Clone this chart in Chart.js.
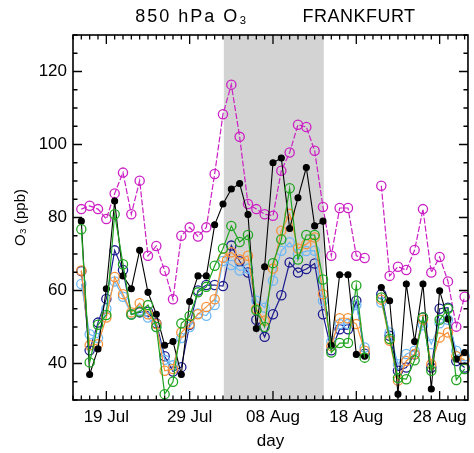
<!DOCTYPE html>
<html lang="en">
<head>
  <meta charset="UTF-8" />
  <title>850 hPa O3 FRANKFURT</title>
  <script src="https://cdn.jsdelivr.net/npm/chart.js@4.4.0/dist/chart.umd.min.js"></script>
  <style>
    html, body { margin: 0; padding: 0; background: #fff; }
    .chart-wrapper { width: 474px; height: 453px; position: relative; }
  </style>
</head>
<body>
  <div class="chart-wrapper"><canvas id="o3"></canvas></div>
  <script>
    // day index: 0 = 16 Jul ... 46 = 31 Aug
    const days = [0, 1, 2, 3, 4, 5, 6, 7, 8, 9, 10, 11, 12, 13, 14, 15, 16, 17, 18, 19, 20, 21, 22, 23,
      24, 25, 26, 27, 28, 29, 30, 31, 32, 33, 34, 35, 36, 37, 38, 39, 40, 41, 42, 43, 44, 45, 46];
    const tickDays = [3, 13, 23, 33, 43];
    const tickLabels = ['19 Jul', '29 Jul', '08 Aug', '18 Aug', '28 Aug'];
    const yTicks = [40, 60, 80, 100, 120];
    const band = [17.1, 29.1];

    const black = [79, 37, 44, 60.5, 84.5, 64, 60.5, 71, 59.5, 53.5, 45, 46, 37, 57, 64, 64, 78, 83.7, 87.8, 89.3,
      80.8, 49.6, 66.5, 95, 96.3, 77, 85.4, 93.7, 77.7, 79, 45, 64.3, 64.3, 42.5, 42, null,
      60.8, 57.2, 31.6, 61.8, 46, 61.8, 33, 59.9, 52.2, 41.2, 43];
    const magenta = [82.3, 83.2, 82.3, 79.6, 86.6, 92.3, 80.9, 90.1, 69.5, 72.2, 65.4, 57.6, 75, 77.3, 74.8, 77.3,
      91.9, 108.3, 116.4, 102.1, 83.7, 82.3, 80.9, 80.5, 92.8, 97.8, 105.4, 104.8, 98.3, 82.9, 69.5, 82.6, 82.6,
      69.5, 68.9, null, 88.7, 64, 66.5, 65.6, 71.1, 82.3, 64.9, 69.2, 62.5, 50.1, 58.3];
    const navy = [65.3, 43.6, 51.2, 57.7, 71, 65.6, 53.5, 54, 54.2, 51, 42, 37.8, 39, 50.6, 60, 61.5, 61.5, 61.2,
      72.3, 68, 64.9, 52, 47.3, 53.5, 58.7, 67.7, 64.9, 65.9, 67.4, 53.5, 43.6, 49.4, 49.4, 57.2, 42.7, null,
      59, 47.6, 38, 38.9, 42.5, 52.6, 38.9, 55, 55.3, 40.7, 38.9];
    const lightblue = [61.8, 48, 47, 55, 62.5, 58.3, 53.5, 54.5, 52.6, 50, 41, 39.5, 47, 50, 53.7, 53.1, 56, 68.1,
      67, 65.5, 66, 57.2, 55.3, 62.7, 70.9, 73.2, 70, 70.8, 70.9, 57.2, 46, 50.8, 50.8, 56, 44.4, null,
      56.7, 48.5, 39.8, 42.6, 43.5, 50.5, 45.3, 51, 52, 43.5, 42];
    const orange = [65.5, 45, 45.3, 52.6, 63.7, 59, 54, 56.5, 53.5, 50.8, 38, 38.5, 48.5, 50.8, 53.5, 55.5, 57.6,
      69, 70.5, 68.5, 69.5, 55, 51.7, 66, 76.4, 81, 71.5, 72.7, 74.5, 59, 44.8, 52.4, 52.4, 50.8, 43.5, null,
      57.5, 46.2, 35.3, 40.7, 42.6, 52, 39.8, 47.1, 48.5, 42, 41];
    const green = [76.8, 40.3, 50.6, 53.3, 80.9, 67.2, 53.4, 54.2, 56, 50, 31.6, 35, 51, 53, 59.5, 61, 66.8, 71.5,
      77.7, 73.3, 75.2, 54.6, 50, 67.5, 74, 88, 68.5, 75.2, 75.2, 63, 43, 45.6, 45.6, 61.4, 41.6, null,
      58.1, 46.7, 36, 35.7, 40.9, 52.6, 38, 52, 55, 35.5, 38.5];

    const pts = vals => days.map((d, i) => ({ x: d, y: vals[i] }));

    function circles(label, vals, color, dash) {
      return {
        label: label,
        data: pts(vals),
        borderColor: color,
        borderWidth: 1.2,
        borderDash: dash || [],
        pointStyle: 'circle',
        pointRadius: 4.6,
        pointBorderWidth: 1.3,
        pointBorderColor: color,
        pointBackgroundColor: 'rgba(0,0,0,0)',
        spanGaps: false,
        tension: 0,
        clip: false
      };
    }

    const frame = {
      id: 'frame',
      beforeDatasetsDraw(chart) {
        const { ctx, chartArea: a, scales: { x } } = chart;
        const x0 = x.getPixelForValue(band[0]);
        const x1 = x.getPixelForValue(band[1]);
        ctx.save();
        ctx.fillStyle = '#d3d3d3';
        ctx.fillRect(x0, a.top, x1 - x0, a.bottom - a.top);
        ctx.restore();
      },
      afterDraw(chart) {
        const { ctx, chartArea: a, scales: { x, y } } = chart;
        ctx.save();
        ctx.strokeStyle = '#000';
        ctx.lineWidth = 1.6;
        ctx.strokeRect(a.left, a.top, a.right - a.left, a.bottom - a.top);
        ctx.lineWidth = 1.3;
        ctx.beginPath();
        for (let d = -1; d <= 46; d++) {
          const px = x.getPixelForValue(d);
          const len = tickDays.includes(d) ? 9 : 4.5;
          ctx.moveTo(px, a.bottom); ctx.lineTo(px, a.bottom - len);
          ctx.moveTo(px, a.top); ctx.lineTo(px, a.top + len);
        }
        for (let v = 30; v <= 130; v += 5) {
          const py = y.getPixelForValue(v);
          const len = yTicks.includes(v) ? 9 : 4.5;
          ctx.moveTo(a.left, py); ctx.lineTo(a.left + len, py);
          ctx.moveTo(a.right, py); ctx.lineTo(a.right - len, py);
        }
        ctx.stroke();
        // title, two parts like the original
        ctx.fillStyle = '#000';
        ctx.font = '18px "Liberation Sans", Arial, sans-serif';
        ctx.textAlign = 'center';
        ctx.textBaseline = 'middle';
        ctx.letterSpacing = '2px';
        ctx.fillText('850 hPa O\u2083', 192, 17);
        ctx.letterSpacing = '0.5px';
        ctx.fillText('FRANKFURT', 359, 17);
        ctx.restore();
      }
    };

    new Chart(document.getElementById('o3'), {
      type: 'line',
      data: {
        datasets: [
          circles('green', green, '#1fa51f'),
          {
            label: 'black',
            data: pts(black),
            borderColor: '#000',
            borderWidth: 1.1,
            pointRadius: 3,
            pointBackgroundColor: '#000',
            pointBorderColor: '#000',
            spanGaps: false,
            tension: 0,
            clip: false
          },
          circles('orange', orange, '#f7923a'),
          circles('lightblue', lightblue, '#6cb8f5'),
          circles('navy', navy, '#1c1c8f'),
          circles('magenta', magenta, '#cc1fc4', [6, 2])
        ]
      },
      options: {
        responsive: true,
        maintainAspectRatio: false,
        animation: false,
        plugins: {
          legend: { display: false },
          tooltip: { enabled: false }
        },
        layout: { padding: { top: 35, right: 3, bottom: 0, left: 0 } },
        scales: {
          x: {
            type: 'linear',
            min: -1,
            max: 46.4,
            grid: { display: false, drawTicks: false },
            border: { display: false },
            afterBuildTicks: s => { s.ticks = tickDays.map(v => ({ value: v })); },
            afterFit: s => { s.height = 53; },
            ticks: {
              autoSkip: false,
              maxRotation: 0,
              padding: 7,
              color: '#000',
              font: { size: 17, family: '"Liberation Sans", Arial, sans-serif' },
              callback: v => tickLabels[tickDays.indexOf(v)]
            },
            title: {
              display: true,
              text: 'day',
              color: '#000',
              font: { size: 17, family: '"Liberation Sans", Arial, sans-serif' },
              padding: { top: 0, bottom: 1 }
            }
          },
          y: {
            min: 30,
            max: 130,
            grid: { display: false, drawTicks: false },
            border: { display: false },
            afterBuildTicks: s => { s.ticks = yTicks.map(v => ({ value: v })); },
            afterFit: s => { s.width = 73; },
            ticks: {
              padding: 6,
              color: '#000',
              font: { size: 17, family: '"Liberation Sans", Arial, sans-serif' }
            },
            title: {
              display: true,
              text: 'O\u2083 (ppb)',
              color: '#000',
              font: { size: 15, family: '"Liberation Sans", Arial, sans-serif' },
              padding: { top: 12, bottom: 0 }
            }
          }
        }
      },
      plugins: [frame]
    });
  </script>
</body>
</html>
